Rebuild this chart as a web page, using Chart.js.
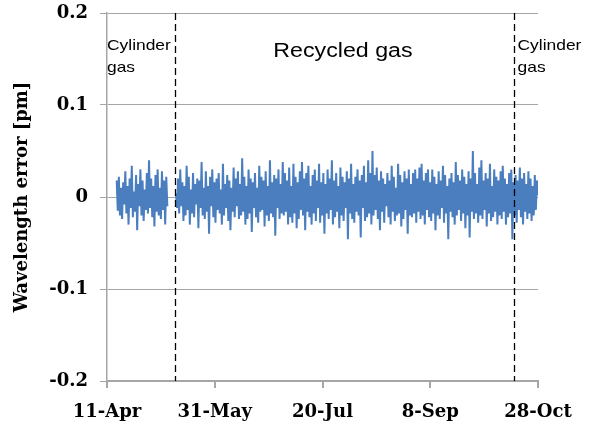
<!DOCTYPE html>
<html>
<head>
<meta charset="utf-8">
<script src="https://cdn.jsdelivr.net/npm/chart.js@4"></script>
<style>
  body { margin: 0; background: #fff; }
</style>
</head>
<body>
<canvas id="chart" width="597" height="431"></canvas>
<script>
// x values are days counted from 11-Apr
const tickDays = [0, 50, 100, 150, 200];
const tickLabels = ["11-Apr", "31-May", "20-Jul", "8-Sep", "28-Oct"];
const switchDays = [31.5, 189];

const cylinderRange = [4.5, 28];
const cylinderValues = [
  0.018,-0.015,0.022,-0.02,0.01,-0.024,0.016,-0.008,0.028,-0.018,
  0.012,-0.03,0.02,-0.012,0.034,-0.022,0.006,-0.016,0.024,-0.036,
  0.014,-0.01,0.03,-0.02,0.018,-0.026,0.008,-0.014,0.026,-0.018,
  0.04,-0.012,0.02,-0.022,0.012,-0.032,0.024,-0.016,0.03,-0.02,
  0.01,-0.024,0.028,-0.014,0.018,-0.03,0.022,-0.01
];

const recycledRange = [32, 200];
const recycledValues = [
  0.004,-0.012,0.02,-0.018,0.03,-0.01,0.016,-0.026,0.012,-0.02,0.034,-0.014,0.022,-0.03,0.008,-0.018,0.026,-0.022,0.014,-0.008,
  0.02,-0.034,0.018,-0.012,0.038,-0.02,0.01,-0.024,0.028,-0.016,0.012,-0.04,0.022,-0.01,0.03,-0.022,0.016,-0.028,0.02,-0.014,
  0.026,-0.018,0.008,-0.03,0.036,-0.02,0.014,-0.012,0.024,-0.026,0.018,-0.036,0.01,-0.016,0.032,-0.022,0.02,-0.01,0.028,-0.024,
  0.014,-0.02,0.042,-0.016,0.022,-0.03,0.012,-0.024,0.03,-0.018,0.02,-0.038,0.016,-0.012,0.026,-0.022,0.01,-0.028,0.034,-0.016,
  0.022,-0.014,0.018,-0.032,0.028,-0.02,0.012,-0.026,0.04,-0.018,0.016,-0.022,0.024,-0.042,0.02,-0.012,0.03,-0.024,0.014,-0.018,
  0.038,-0.02,0.026,-0.016,0.018,-0.03,0.032,-0.022,0.012,-0.028,0.036,-0.018,0.022,-0.034,0.016,-0.024,0.028,-0.014,0.038,-0.02,
  0.02,-0.036,0.026,-0.016,0.034,-0.022,0.012,-0.03,0.024,-0.018,0.03,-0.026,0.018,-0.012,0.036,-0.028,0.016,-0.02,0.026,-0.04,
  0.014,-0.018,0.03,-0.024,0.02,-0.014,0.04,-0.03,0.018,-0.022,0.026,-0.016,0.012,-0.034,0.032,-0.02,0.022,-0.026,0.016,-0.012,
  0.028,-0.046,0.02,-0.018,0.036,-0.024,0.014,-0.028,0.022,-0.016,0.03,-0.02,0.018,-0.044,0.024,-0.012,0.034,-0.026,0.016,-0.022,
  0.04,-0.018,0.026,-0.03,0.05,-0.02,0.024,-0.014,0.032,-0.024,0.018,-0.036,0.028,-0.016,0.02,-0.028,0.014,-0.01,0.026,-0.022,
  0.018,-0.03,0.034,-0.016,0.022,-0.026,0.01,-0.02,0.036,-0.018,0.024,-0.032,0.016,-0.024,0.028,-0.014,0.02,-0.04,0.03,-0.02,
  0.014,-0.022,0.026,-0.018,0.03,-0.028,0.02,-0.016,0.032,-0.024,0.036,-0.02,0.018,-0.03,0.026,-0.014,0.03,-0.022,0.016,-0.026,
  0.03,-0.018,0.022,-0.036,0.014,-0.02,0.028,-0.024,0.018,-0.012,0.034,-0.028,0.024,-0.018,0.012,-0.046,0.02,-0.016,0.026,-0.022,
  0.016,-0.03,0.038,-0.02,0.024,-0.014,0.018,-0.026,0.03,-0.018,0.022,-0.034,0.014,-0.02,0.028,-0.044,0.02,-0.016,0.05,-0.024,
  0.026,-0.018,0.014,-0.028,0.032,-0.02,0.04,-0.024,0.018,-0.014,0.026,-0.032,0.02,-0.018,0.036,-0.026,0.012,-0.022,0.03,-0.016,
  0.022,-0.03,0.018,-0.02,0.028,-0.024,0.034,-0.016,0.02,-0.03,0.014,-0.022,0.026,-0.018,0.03,-0.046,0.016,-0.02,0.024,-0.028,
  0.018,-0.014,0.032,-0.022,0.02,-0.03,0.026,-0.016,0.014,-0.024,0.028,-0.018,0.02,-0.026,0.012,-0.02,0.024,-0.014,0.018,0.002
];

function toPoints(values, range) {
  const step = (range[1] - range[0]) / (values.length - 1);
  return values.map((v, i) => ({ x: range[0] + i * step, y: v }));
}

const points = toPoints(cylinderValues, cylinderRange)
  .concat([{ x: 30, y: null }])
  .concat(toPoints(recycledValues, recycledRange));

const axisGray = "#a6a6a6";
const serifBold = { family: "'DejaVu Serif', serif", size: 18, weight: "bold" };

// dashed switch-over lines and the gas labels
const gasNotes = {
  id: "gasNotes",
  afterDatasetsDraw(chart) {
    const { ctx, chartArea, scales } = chart;
    const xs = scales.x, ys = scales.y;
    ctx.save();
    ctx.strokeStyle = "#000";
    ctx.lineWidth = 1.3;
    ctx.setLineDash([7, 4]);
    switchDays.forEach(d => {
      const px = Math.round(xs.getPixelForValue(d)) + 0.5;
      ctx.beginPath();
      ctx.moveTo(px, chartArea.top);
      ctx.lineTo(px, chartArea.bottom);
      ctx.stroke();
    });
    ctx.setLineDash([]);

    ctx.fillStyle = "#000";
    const text = (str, day, val, size, align) => {
      ctx.save();
      ctx.font = size + "px 'Liberation Sans', Arial, sans-serif";
      ctx.textAlign = align;
      ctx.textBaseline = "alphabetic";
      ctx.translate(xs.getPixelForValue(day), ys.getPixelForValue(val));
      ctx.scale(1.16, 1);
      ctx.fillText(str, 0, 0);
      ctx.restore();
    };
    text("Cylinder", 0, 0.160, 15, "left");
    text("gas", 0, 0.136, 15, "left");
    text("Recycled gas", 109.5, 0.1527, 20, "center");
    text("Cylinder", 190.5, 0.160, 15, "left");
    text("gas", 190.5, 0.136, 15, "left");
    ctx.restore();
  }
};

new Chart(document.getElementById("chart").getContext("2d"), {
  type: "line",
  data: {
    datasets: [{
      data: points,
      borderColor: "#4a7ebf",
      borderWidth: 2,
      pointRadius: 0,
      spanGaps: false,
      tension: 0
    }]
  },
  options: {
    responsive: false,
    animation: false,
    layout: { padding: { top: 13, right: 59, left: 0, bottom: 0 } },
    plugins: {
      legend: { display: false },
      tooltip: { enabled: false }
    },
    scales: {
      x: {
        type: "linear",
        min: 0,
        max: 200,
        afterBuildTicks: axis => { axis.ticks = tickDays.map(v => ({ value: v })); },
        afterFit: axis => { axis.height = 50; axis.paddingLeft = 0; axis.paddingRight = 0; },
        ticks: {
          autoSkip: false,
          maxRotation: 0,
          padding: 14,
          color: "#000",
          font: serifBold,
          callback: v => tickLabels[tickDays.indexOf(v)]
        },
        grid: { drawOnChartArea: false, drawTicks: true, tickLength: 7, color: axisGray, lineWidth: 2 },
        border: { display: true, color: axisGray, width: 2 }
      },
      y: {
        min: -0.2,
        max: 0.2,
        afterFit: axis => { axis.width = 107; axis.paddingTop = 0; axis.paddingBottom = 0; },
        ticks: {
          stepSize: 0.1,
          padding: 12,
          color: "#000",
          font: serifBold
        },
        grid: { color: axisGray, lineWidth: 1, tickLength: 7 },
        border: { display: true, color: axisGray, width: 1.5 },
        title: {
          display: true,
          text: "Wavelength error [pm]",
          color: "#000",
          font: serifBold,
          padding: { top: 12, bottom: 0 }
        }
      }
    }
  },
  plugins: [gasNotes]
});
</script>
</body>
</html>
